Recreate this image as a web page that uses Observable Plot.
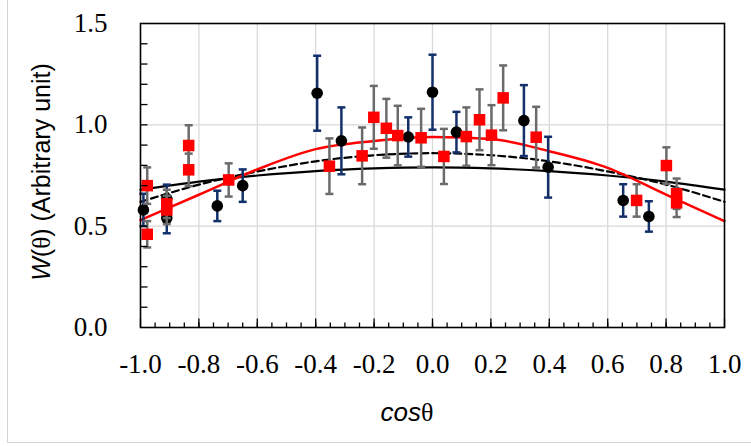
<!DOCTYPE html>
<html><head><meta charset="utf-8">
<script src="https://cdn.jsdelivr.net/npm/d3@7"></script>
<script src="https://cdn.jsdelivr.net/npm/@observablehq/plot@0.6"></script>
<style>
body{margin:0;background:#fff;}
#wrap{position:relative;width:751px;height:446px;overflow:hidden;}
#border{position:absolute;left:7px;top:-2px;width:800px;height:445px;border:1px solid #d4d4d4;box-sizing:border-box;pointer-events:none;}
svg{position:absolute;left:0;top:0;}
</style></head><body><div id="wrap"><div id="border"></div></div>
<script>
// Black circles (value, error)
const blackX   = [-0.99, -0.91, -0.91, -0.737, -0.65, -0.395, -0.312, -0.083, 0.0, 0.082, 0.313, 0.396, 0.653, 0.741];
const blackY   = [0.58, 0.635, 0.54, 0.60, 0.70, 1.156, 0.921, 0.94, 1.161, 0.964, 1.021, 0.791, 0.627, 0.548];
const blackErr = [0.08, 0.07, 0.075, 0.075, 0.08, 0.185, 0.165, 0.097, 0.185, 0.10, 0.175, 0.15, 0.08, 0.075];
// Red squares (value, error)
const redX   = [-0.977, -0.977, -0.91, -0.91, -0.835, -0.835, -0.698, -0.353, -0.241, -0.201, -0.158, -0.119, -0.039, 0.039, 0.116, 0.161, 0.202, 0.242, 0.355, 0.699, 0.801, 0.836, 0.836];
const redY   = [0.70, 0.46, 0.61, 0.58, 0.898, 0.778, 0.728, 0.796, 0.847, 1.037, 0.983, 0.947, 0.936, 0.844, 0.942, 1.025, 0.949, 1.133, 0.939, 0.627, 0.799, 0.66, 0.615];
const redErr = [0.09, 0.065, 0.07, 0.07, 0.10, 0.08, 0.082, 0.137, 0.14, 0.155, 0.145, 0.147, 0.143, 0.136, 0.144, 0.15, 0.148, 0.16, 0.15, 0.08, 0.09, 0.075, 0.07];
// Fit curves
const curveX  = [-1.0, -0.8, -0.6, -0.4, -0.2, 0.0, 0.2, 0.4, 0.6, 0.8, 1.0];
const solidY  = [0.68, 0.72, 0.75, 0.772, 0.785, 0.79, 0.785, 0.772, 0.75, 0.72, 0.68];
const dashedY = [0.62, 0.705, 0.77, 0.82, 0.85, 0.86, 0.85, 0.82, 0.77, 0.705, 0.62];
const redFitY = [0.53, 0.655, 0.78, 0.88, 0.92, 0.94, 0.93, 0.87, 0.788, 0.656, 0.525];
// Ticks
const xTicks = [-1.0, -0.8, -0.6, -0.4, -0.2, 0.0, 0.2, 0.4, 0.6, 0.8, 1.0];
const xGrid = [-0.8, -0.6, -0.4, -0.2, 0.0, 0.2, 0.4, 0.6, 0.8];
const xMinor = d3.range(-95, 100, 5).map(v => v / 100);
const yTicks = [0.0, 0.5, 1.0, 1.5];
const yGrid = [0.5, 1.0];
const yMinor = d3.range(1, 15).map(v => v / 10);

const black = blackX.map((x, i) => ({x, y: blackY[i], lo: blackY[i] - blackErr[i], hi: blackY[i] + blackErr[i]}));
const red = redX.map((x, i) => ({x, y: redY[i], lo: redY[i] - redErr[i], hi: redY[i] + redErr[i]}));
const curves = curveX.map((x, i) => ({x, s: solidY[i], d: dashedY[i], r: redFitY[i]}));

const cap = {draw(ctx, size) { const r = Math.sqrt(size / Math.PI); ctx.moveTo(-r, 0); ctx.lineTo(r, 0); }};
const upTick = len => ({draw(ctx) { ctx.moveTo(0, 0); ctx.lineTo(0, -len); }});
const rightTick = len => ({draw(ctx) { ctx.moveTo(0, 0); ctx.lineTo(len, 0); }});
const navy = "#13306b", grey = "#6b6b6b";
const serif = "Liberation Serif";

function errMarks(data, color) {
  return [
    Plot.ruleX(data, {x: "x", y1: "lo", y2: "hi", stroke: color, strokeWidth: 2.5}),
    Plot.dot(data, {x: "x", y: "lo", symbol: cap, r: 4, stroke: color, strokeWidth: 2.5}),
    Plot.dot(data, {x: "x", y: "hi", symbol: cap, r: 4, stroke: color, strokeWidth: 2.5})
  ];
}

const chart = Plot.plot({
  width: 751, height: 446,
  marginLeft: 140, marginRight: 27, marginTop: 23, marginBottom: 119,
  style: {background: "transparent", overflow: "visible"},
  x: {domain: [-1, 1]},
  y: {domain: [0, 1.5]},
  marks: [
    Plot.gridX(xGrid, {stroke: "#d9d9d9", strokeOpacity: 1, strokeWidth: 1.3}),
    Plot.gridY(yGrid, {stroke: "#d9d9d9", strokeOpacity: 1, strokeWidth: 1.3}),
    Plot.line(curves, {x: "x", y: "s", stroke: "black", strokeWidth: 2.2, curve: "natural"}),
    Plot.line(curves, {x: "x", y: "d", stroke: "black", strokeWidth: 2.2, strokeDasharray: "7,4", curve: "natural"}),
    Plot.line(curves, {x: "x", y: "r", stroke: "#ff0000", strokeWidth: 2.5, curve: "monotone-x"}),
    ...errMarks(black, navy),
    Plot.dot(black, {x: "x", y: "y", r: 5.8, fill: "black"}),
    ...errMarks(red, grey),
    Plot.dot(red, {x: "x", y: "y", r: 6.5, symbol: "square", fill: "#ff0000"}),
    // inward tick marks
    Plot.dot(xMinor, {x: d => d, y: () => 0, symbol: upTick(5), stroke: "black", strokeWidth: 1.3}),
    Plot.dot(xTicks, {x: d => d, y: () => 0, symbol: upTick(9), stroke: "black", strokeWidth: 1.3}),
    Plot.dot(yMinor, {y: d => d, x: () => -1, symbol: rightTick(7), stroke: "black", strokeWidth: 1.3}),
    Plot.axisX(xTicks, {tickSize: 0, tickPadding: 26, label: null, fontSize: 27, fontFamily: serif, tickFormat: d => d.toFixed(1)}),
    Plot.axisY(yTicks, {tickSize: 0, tickPadding: 33, label: null, fontSize: 27, fontFamily: serif, tickFormat: d => d.toFixed(1)}),
    Plot.frame({stroke: "black", strokeWidth: 1.6})
  ]
});
document.getElementById("wrap").appendChild(chart);

const svg = d3.select(chart);
const yt = svg.append("text")
  .attr("transform", "translate(50,172) rotate(-90)")
  .attr("text-anchor", "middle")
  .attr("font-family", "Liberation Sans")
  .attr("font-size", 25)
  .attr("fill", "black");
yt.append("tspan").attr("font-style", "italic").text("W");
yt.append("tspan").text("(");
yt.append("tspan").attr("font-family", serif).text("θ");
yt.append("tspan").text(") (Arbitrary unit)");

const xt = svg.append("text")
  .attr("x", 407).attr("y", 421)
  .attr("text-anchor", "middle")
  .attr("font-size", 26)
  .attr("fill", "black");
xt.append("tspan").attr("font-family", "Liberation Sans").attr("font-style", "italic").text("cos");
xt.append("tspan").attr("font-family", serif).text("θ");
</script>
</body></html>
